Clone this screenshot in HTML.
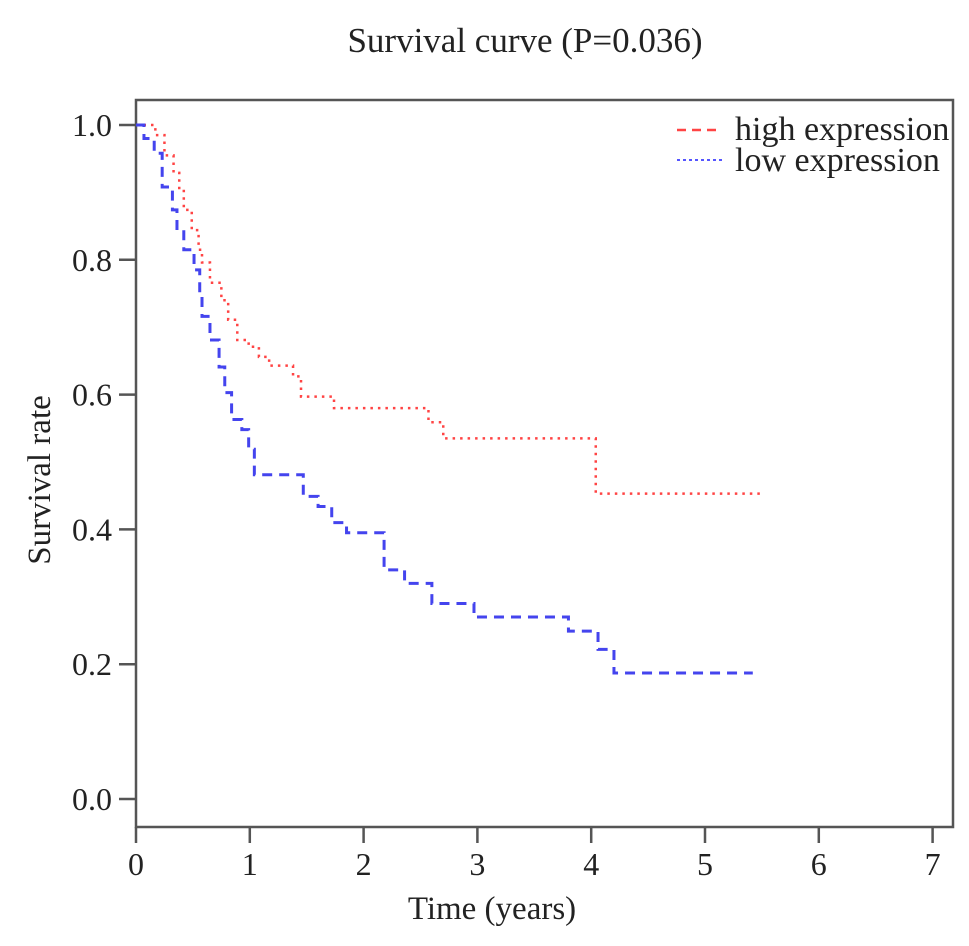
<!DOCTYPE html>
<html><head><meta charset="utf-8"><style>
body{margin:0;background:#fff;}
svg text{font-family:"Liberation Serif",serif;fill:#222;}
</style></head><body>
<svg id="chart" width="969" height="941" xmlns="http://www.w3.org/2000/svg">
<text x="525" y="52" font-size="35" text-anchor="middle">Survival curve (P=0.036)</text>
<rect x="136" y="100" width="817" height="727" fill="none" stroke="#555" stroke-width="2.5"/>
<g id="axes"></g>
<g id="series"></g>
<text x="492" y="919" font-size="33" text-anchor="middle">Time (years)</text>
<text x="50" y="480" font-size="33" text-anchor="middle" transform="rotate(-90 50 480)">Survival rate</text>
<g>
<line x1="677" y1="130" x2="722" y2="130" stroke="#f44" stroke-width="2.5" stroke-dasharray="9,6"/>
<text x="735" y="140" font-size="34">high expression</text>
<line x1="677" y1="160" x2="722" y2="160" stroke="#55f" stroke-width="2" stroke-dasharray="3,3"/>
<text x="735" y="171" font-size="34">low expression</text>
</g>
</svg>
<script>
const xTicks=[0,1,2,3,4,5,6,7];
const yTicks=[0.0,0.2,0.4,0.6,0.8,1.0];
const highTimes=[0,0.17,0.25,0.33,0.38,0.42,0.49,0.55,0.58,0.65,0.75,0.81,0.89,0.99,1.08,1.17,1.38,1.45,1.74,2.57,2.7,4.04,5.49];
const highSurv=[1.0,0.985,0.955,0.929,0.904,0.874,0.844,0.815,0.796,0.766,0.74,0.711,0.681,0.671,0.656,0.643,0.627,0.597,0.58,0.559,0.535,0.453,0.453];
const lowTimes=[0,0.07,0.16,0.23,0.32,0.36,0.42,0.51,0.56,0.58,0.65,0.73,0.78,0.84,0.93,0.99,1.04,1.39,1.47,1.6,1.72,1.85,2.18,2.36,2.6,2.97,3.8,4.06,4.2,5.42];
const lowSurv=[1.0,0.98,0.958,0.908,0.874,0.844,0.815,0.785,0.745,0.716,0.681,0.641,0.603,0.563,0.548,0.519,0.481,0.481,0.449,0.434,0.41,0.395,0.34,0.32,0.29,0.27,0.249,0.222,0.187,0.187];
const NS='http://www.w3.org/2000/svg';
const X=t=>136+t*113.8;
const Y=s=>799-s*674;
const axes=document.getElementById('axes');
function mk(tag,attrs,parent){const e=document.createElementNS(NS,tag);for(const k in attrs)e.setAttribute(k,attrs[k]);parent.appendChild(e);return e;}
xTicks.forEach(v=>{
  const l=mk('line',{x1:X(v),x2:X(v),y1:827,y2:843,stroke:'#555','stroke-width':2.5},axes);
  
  
  const t=mk('text',{x:X(v),y:875,'font-size':32,'text-anchor':'middle'},axes);
  
  
  t.textContent=v;
});
yTicks.forEach(v=>{
  const l=mk('line',{x1:119,x2:136,y1:Y(v),y2:Y(v),stroke:'#555','stroke-width':2.5},axes);
  
  
  const t=mk('text',{x:112,y:Y(v)+11,'font-size':32,'text-anchor':'end'},axes);
  
  
  t.textContent=v.toFixed(1);
});
function stepPath(ts,ss){let d='M'+X(ts[0])+','+Y(ss[0]);for(let i=1;i<ts.length;i++){d+=' H'+X(ts[i])+' V'+Y(ss[i]);}return d;}
const g=document.getElementById('series');
const ph=mk('path',{d:stepPath(highTimes,highSurv),fill:'none',stroke:'#f44','stroke-width':2.5,'stroke-dasharray':'2.5,5'},g);


const pl=mk('path',{d:stepPath(lowTimes,lowSurv),fill:'none',stroke:'#44e','stroke-width':3,'stroke-dasharray':'10,7'},g);


</script>
</body></html>
